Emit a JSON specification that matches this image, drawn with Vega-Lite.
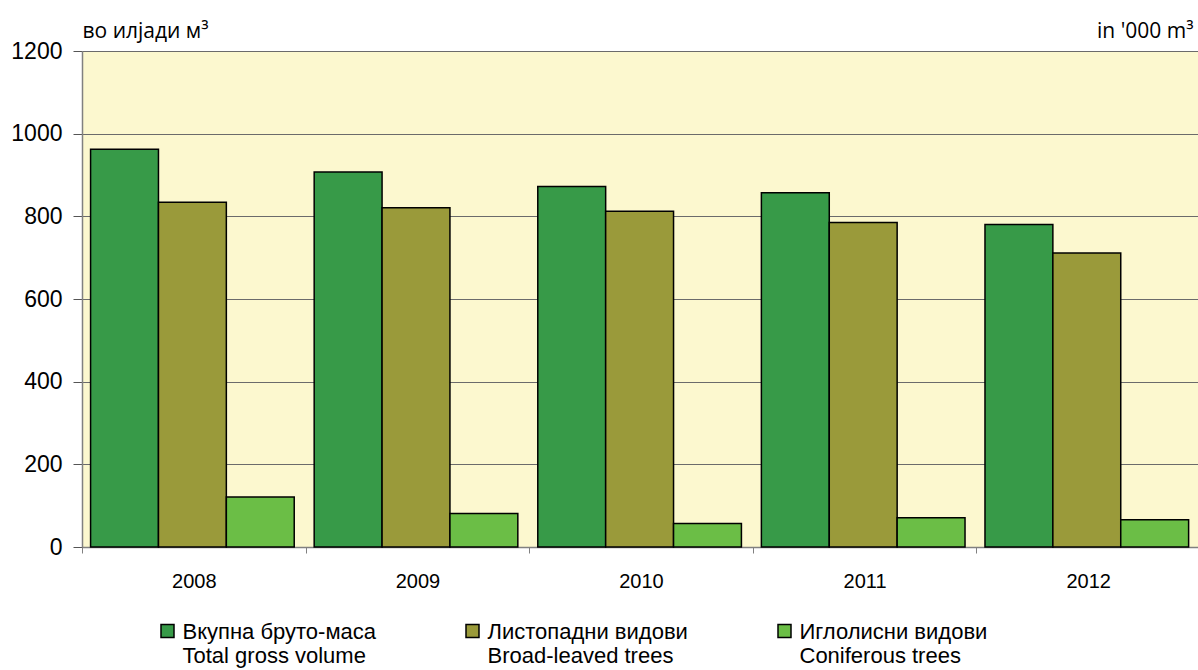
{
  "$schema": "https://vega.github.io/schema/vega-lite/v6.json",
  "width": 1118,
  "height": 496,
  "autosize": {"type": "none"},
  "padding": {"left": 82, "top": 51, "right": 0, "bottom": 123},
  "background": "white",
  "config": {
    "view": {"fill": "#FCF8CF", "stroke": null},
    "font": "Liberation Sans"
  },
  "data": {
    "values": [
      {"year": "2008", "series": "Вкупна бруто-маса / Total gross volume", "value": 962},
      {"year": "2008", "series": "Листопадни видови / Broad-leaved trees", "value": 834},
      {"year": "2008", "series": "Иглолисни видови / Coniferous trees", "value": 121},
      {"year": "2009", "series": "Вкупна бруто-маса / Total gross volume", "value": 907},
      {"year": "2009", "series": "Листопадни видови / Broad-leaved trees", "value": 821},
      {"year": "2009", "series": "Иглолисни видови / Coniferous trees", "value": 81},
      {"year": "2010", "series": "Вкупна бруто-маса / Total gross volume", "value": 872},
      {"year": "2010", "series": "Листопадни видови / Broad-leaved trees", "value": 812},
      {"year": "2010", "series": "Иглолисни видови / Coniferous trees", "value": 57},
      {"year": "2011", "series": "Вкупна бруто-маса / Total gross volume", "value": 857},
      {"year": "2011", "series": "Листопадни видови / Broad-leaved trees", "value": 785},
      {"year": "2011", "series": "Иглолисни видови / Coniferous trees", "value": 71},
      {"year": "2012", "series": "Вкупна бруто-маса / Total gross volume", "value": 780},
      {"year": "2012", "series": "Листопадни видови / Broad-leaved trees", "value": 711},
      {"year": "2012", "series": "Иглолисни видови / Coniferous trees", "value": 66}
    ]
  },
  "layer": [
    {
      "mark": {"type": "bar", "stroke": "black", "strokeWidth": 1.5},
      "encoding": {
        "x": {
          "field": "year",
          "type": "nominal",
          "scale": {"paddingInner": 0, "paddingOuter": 0},
          "axis": {
            "title": null,
            "labelAngle": 0,
            "tickBand": "extent",
            "tickSize": 6,
            "tickColor": "#808080",
            "domainColor": "#808080",
            "domainWidth": 1.5,
            "labelFontSize": 20,
            "labelColor": "black",
            "labelPadding": 18
          }
        },
        "xOffset": {
          "field": "series",
          "type": "nominal",
          "scale": {
            "domain": [
              "Вкупна бруто-маса / Total gross volume",
              "Листопадни видови / Broad-leaved trees",
              "Иглолисни видови / Coniferous trees"
            ],
            "paddingInner": 0,
            "paddingOuter": 0.147,
            "align": 0.43
          }
        },
        "y": {
          "field": "value",
          "type": "quantitative",
          "scale": {"domain": [0, 1200], "nice": false},
          "axis": {
            "values": [0, 200, 400, 600, 800, 1000, 1200],
            "format": "d",
            "grid": true,
            "gridColor": "#6b6b6b",
            "gridWidth": 1.2,
            "tickSize": 9,
            "tickColor": "#555555",
            "domainColor": "#808080",
            "domainWidth": 1.5,
            "labelFontSize": 23,
            "labelColor": "black",
            "labelPadding": 11,
            "title": "во илјади м³",
            "titleAngle": 0,
            "titleAlign": "left",
            "titleBaseline": "alphabetic",
            "titleX": 0,
            "titleY": -14,
            "titleFont": "Open Sans",
            "titleFontSize": 21,
            "titleFontWeight": "normal",
            "titleColor": "black"
          }
        },
        "color": {
          "field": "series",
          "type": "nominal",
          "scale": {
            "domain": [
              "Вкупна бруто-маса / Total gross volume",
              "Листопадни видови / Broad-leaved trees",
              "Иглолисни видови / Coniferous trees"
            ],
            "range": ["#379A48", "#9A9A3A", "#6BBE46"]
          },
          "legend": {
            "title": null,
            "orient": "none",
            "legendX": 74.5,
            "legendY": 577,
            "direction": "horizontal",
            "columns": 3,
            "columnPadding": 85,
            "padding": 0,
            "symbolType": "M-1,-2.23H1V-0.23H-1Z",
            "symbolSize": 169,
            "symbolStrokeColor": "black",
            "symbolStrokeWidth": 1.5,
            "symbolOpacity": 1,
            "labelFontSize": 22,
            "labelColor": "black",
            "labelLimit": 400,
            "labelOffset": 4,
            "labelBaseline": "alphabetic",
            "labelExpr": "split(datum.label, ' / ')"
          }
        }
      }
    },
    {
      "mark": {"type": "bar", "opacity": 0},
      "encoding": {
        "y": {
          "field": "value",
          "type": "quantitative",
          "scale": {"domain": [0, 1200], "nice": false},
          "axis": {
            "orient": "right",
            "labels": false,
            "ticks": false,
            "domain": false,
            "grid": false,
            "title": "in '000 m³",
            "titleAngle": 0,
            "titleAlign": "right",
            "titleBaseline": "alphabetic",
            "titleX": -7,
            "titleY": -14,
            "titleFont": "Open Sans",
            "titleFontSize": 21,
            "titleFontWeight": "normal",
            "titleColor": "black"
          }
        }
      }
    }
  ],
  "resolve": {"scale": {"y": "independent"}}
}
